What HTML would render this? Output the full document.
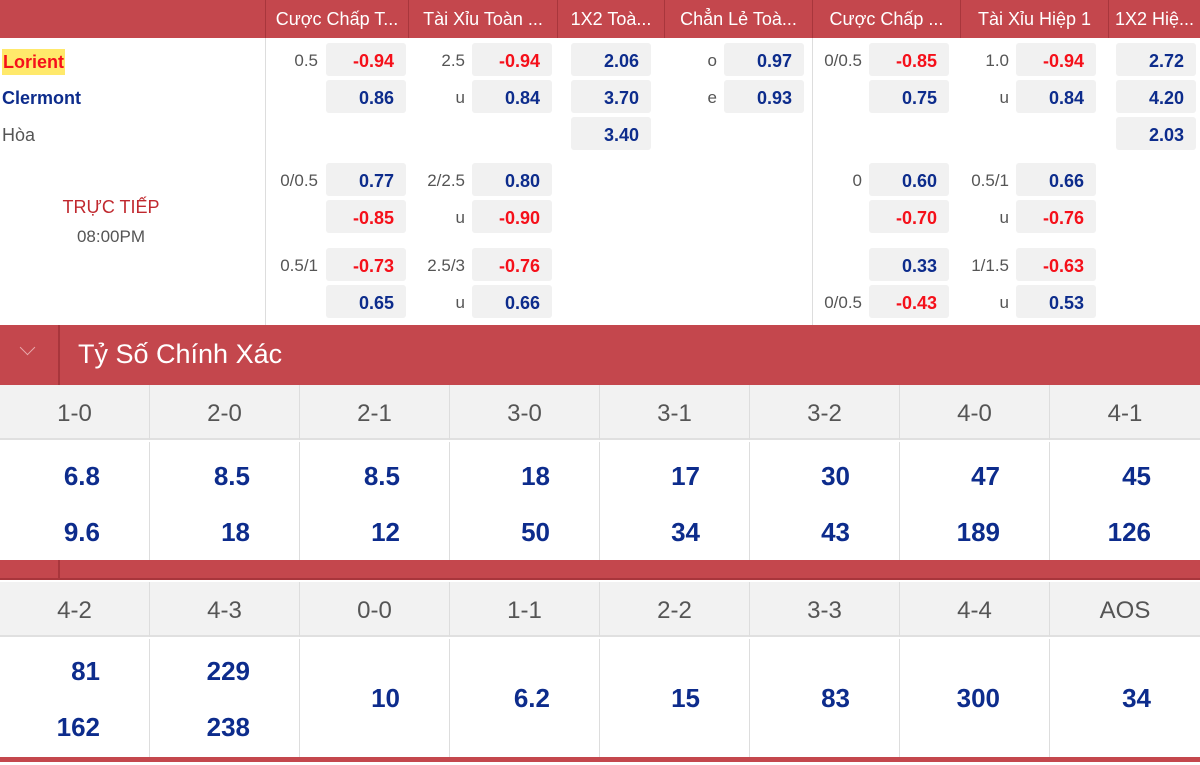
<!DOCTYPE html>
<html><head><meta charset="utf-8"><style>
*{margin:0;padding:0;box-sizing:border-box}
body{width:1200px;height:765px;overflow:hidden;background:#fff;position:relative;font-family:"Liberation Sans","DejaVu Sans",sans-serif}
.a{position:absolute}
.hd{position:absolute;top:0;left:0;width:1200px;height:38px;background:#c4474d}
.hc{position:absolute;top:0;height:38px;line-height:38px;color:#fff;font-size:18px;text-align:center;border-left:1px solid #a8363c;white-space:nowrap}
.b{position:absolute;width:80px;height:33px;background:#f1f1f1;border-radius:3px;text-align:right;padding-right:12px;font-weight:bold;font-size:18px;line-height:36px;color:#0d2c8c}
.r{color:#f5101a}
.l{position:absolute;width:70px;text-align:right;font-size:17px;line-height:36px;color:#555}
.sc{position:absolute;width:150px;text-align:center;font-size:24px;color:#555;border-right:1px solid #ddd}
.v{position:absolute;width:150px;text-align:right;padding-right:49px;font-size:26px;font-weight:bold;color:#0d2c8c;border-right:1px solid #ddd}
.t2{padding-top:6px}
</style></head><body>
<div class="hd"></div>
<div class="hc" style="left:265px;width:143px">Cược Chấp T...</div>
<div class="hc" style="left:408px;width:149px">Tài Xỉu Toàn ...</div>
<div class="hc" style="left:557px;width:107px">1X2 Toà...</div>
<div class="hc" style="left:664px;width:148px">Chẳn Lẻ Toà...</div>
<div class="hc" style="left:812px;width:148px">Cược Chấp ...</div>
<div class="hc" style="left:960px;width:148px">Tài Xỉu Hiệp 1</div>
<div class="hc" style="left:1108px;width:92px">1X2 Hiệ...</div>
<div class="a" style="left:265px;top:38px;width:1px;height:287px;background:#ddd"></div>
<div class="a" style="left:812px;top:38px;width:1px;height:287px;background:#ddd"></div>

<div class="a" style="left:2px;top:49px;background:#ffe96b;color:#f5101a;font-weight:bold;font-size:18px;padding:0 1px;line-height:26px">Lorient</div>
<div class="a" style="left:2px;top:86px;color:#0d2c8c;font-weight:bold;font-size:18px;line-height:24px">Clermont</div>
<div class="a" style="left:2px;top:123px;color:#555;font-size:18px;line-height:24px">Hòa</div>
<div class="a" style="left:0;top:197px;width:222px;text-align:center;color:#c0282e;font-size:18px">TRỰC TIẾP</div>
<div class="a" style="left:0;top:227px;width:222px;text-align:center;color:#555;font-size:17px">08:00PM</div>

<div class="l" style="left:248px;top:43px">0.5</div><div class="b r" style="left:326px;top:43px">-0.94</div>
<div class="b" style="left:326px;top:80px">0.86</div>
<div class="l" style="left:248px;top:163px">0/0.5</div><div class="b" style="left:326px;top:163px">0.77</div>
<div class="b r" style="left:326px;top:200px">-0.85</div>
<div class="l" style="left:248px;top:248px">0.5/1</div><div class="b r" style="left:326px;top:248px">-0.73</div>
<div class="b" style="left:326px;top:285px">0.65</div>
<div class="l" style="left:395px;top:43px">2.5</div><div class="b r" style="left:472px;top:43px">-0.94</div>
<div class="l" style="left:395px;top:80px">u</div><div class="b" style="left:472px;top:80px">0.84</div>
<div class="l" style="left:395px;top:163px">2/2.5</div><div class="b" style="left:472px;top:163px">0.80</div>
<div class="l" style="left:395px;top:200px">u</div><div class="b r" style="left:472px;top:200px">-0.90</div>
<div class="l" style="left:395px;top:248px">2.5/3</div><div class="b r" style="left:472px;top:248px">-0.76</div>
<div class="l" style="left:395px;top:285px">u</div><div class="b" style="left:472px;top:285px">0.66</div>
<div class="b" style="left:571px;top:43px">2.06</div>
<div class="b" style="left:571px;top:80px">3.70</div>
<div class="b" style="left:571px;top:117px">3.40</div>
<div class="l" style="left:647px;top:43px">o</div><div class="b" style="left:724px;top:43px">0.97</div>
<div class="l" style="left:647px;top:80px">e</div><div class="b" style="left:724px;top:80px">0.93</div>
<div class="l" style="left:792px;top:43px">0/0.5</div><div class="b r" style="left:869px;top:43px">-0.85</div>
<div class="b" style="left:869px;top:80px">0.75</div>
<div class="l" style="left:792px;top:163px">0</div><div class="b" style="left:869px;top:163px">0.60</div>
<div class="b r" style="left:869px;top:200px">-0.70</div>
<div class="b" style="left:869px;top:248px">0.33</div>
<div class="l" style="left:792px;top:285px">0/0.5</div><div class="b r" style="left:869px;top:285px">-0.43</div>
<div class="l" style="left:939px;top:43px">1.0</div><div class="b r" style="left:1016px;top:43px">-0.94</div>
<div class="l" style="left:939px;top:80px">u</div><div class="b" style="left:1016px;top:80px">0.84</div>
<div class="l" style="left:939px;top:163px">0.5/1</div><div class="b" style="left:1016px;top:163px">0.66</div>
<div class="l" style="left:939px;top:200px">u</div><div class="b r" style="left:1016px;top:200px">-0.76</div>
<div class="l" style="left:939px;top:248px">1/1.5</div><div class="b r" style="left:1016px;top:248px">-0.63</div>
<div class="l" style="left:939px;top:285px">u</div><div class="b" style="left:1016px;top:285px">0.53</div>
<div class="b" style="left:1116px;top:43px">2.72</div>
<div class="b" style="left:1116px;top:80px">4.20</div>
<div class="b" style="left:1116px;top:117px">2.03</div>

<div class="a" style="left:0;top:325px;width:1200px;height:60px;background:#c4474d"></div>
<div class="a" style="left:58px;top:325px;width:2px;height:60px;background:#a8363c"></div>
<div class="a" style="left:22px;top:342px;width:11px;height:11px;border-right:1.5px solid #e8a9ac;border-bottom:1.5px solid #e8a9ac;transform:rotate(45deg)"></div>
<div class="a" style="left:78px;top:337px;color:#fff;font-size:27px;line-height:34px">Tỷ Số Chính Xác</div>

<div class="a" style="left:0;top:385px;width:1200px;height:55px;background:#f2f2f2;border-bottom:2px solid #e0e0e0"></div>
<div class="sc" style="left:0;top:385px;height:55px;line-height:58px">1-0</div>
<div class="sc" style="left:150px;top:385px;height:55px;line-height:58px">2-0</div>
<div class="sc" style="left:300px;top:385px;height:55px;line-height:58px">2-1</div>
<div class="sc" style="left:450px;top:385px;height:55px;line-height:58px">3-0</div>
<div class="sc" style="left:600px;top:385px;height:55px;line-height:58px">3-1</div>
<div class="sc" style="left:750px;top:385px;height:55px;line-height:58px">3-2</div>
<div class="sc" style="left:900px;top:385px;height:55px;line-height:58px">4-0</div>
<div class="sc" style="left:1050px;top:385px;height:55px;line-height:58px;border:0">4-1</div>
<div class="v t2" style="left:0;top:442px;height:118px;line-height:56px">6.8<br>9.6</div>
<div class="v t2" style="left:150px;top:442px;height:118px;line-height:56px">8.5<br>18</div>
<div class="v t2" style="left:300px;top:442px;height:118px;line-height:56px">8.5<br>12</div>
<div class="v t2" style="left:450px;top:442px;height:118px;line-height:56px">18<br>50</div>
<div class="v t2" style="left:600px;top:442px;height:118px;line-height:56px">17<br>34</div>
<div class="v t2" style="left:750px;top:442px;height:118px;line-height:56px">30<br>43</div>
<div class="v t2" style="left:900px;top:442px;height:118px;line-height:56px">47<br>189</div>
<div class="v t2" style="left:1050px;top:442px;height:118px;line-height:56px;border:0">45<br>126</div>

<div class="a" style="left:0;top:560px;width:1200px;height:20px;background:#c4474d;border-bottom:2px solid #a8363c"></div>
<div class="a" style="left:58px;top:560px;width:2px;height:20px;background:#a8363c"></div>

<div class="a" style="left:0;top:582px;width:1200px;height:55px;background:#f2f2f2;border-bottom:2px solid #e0e0e0"></div>
<div class="sc" style="left:0;top:582px;height:55px;line-height:58px">4-2</div>
<div class="sc" style="left:150px;top:582px;height:55px;line-height:58px">4-3</div>
<div class="sc" style="left:300px;top:582px;height:55px;line-height:58px">0-0</div>
<div class="sc" style="left:450px;top:582px;height:55px;line-height:58px">1-1</div>
<div class="sc" style="left:600px;top:582px;height:55px;line-height:58px">2-2</div>
<div class="sc" style="left:750px;top:582px;height:55px;line-height:58px">3-3</div>
<div class="sc" style="left:900px;top:582px;height:55px;line-height:58px">4-4</div>
<div class="sc" style="left:1050px;top:582px;height:55px;line-height:58px;border:0">AOS</div>
<div class="v" style="left:0;top:639px;height:118px;line-height:56px;padding-top:4px">81<br>162</div>
<div class="v" style="left:150px;top:639px;height:118px;line-height:56px;padding-top:4px">229<br>238</div>
<div class="v" style="left:300px;top:639px;height:118px;line-height:118px">10</div>
<div class="v" style="left:450px;top:639px;height:118px;line-height:118px">6.2</div>
<div class="v" style="left:600px;top:639px;height:118px;line-height:118px">15</div>
<div class="v" style="left:750px;top:639px;height:118px;line-height:118px">83</div>
<div class="v" style="left:900px;top:639px;height:118px;line-height:118px">300</div>
<div class="v" style="left:1050px;top:639px;height:118px;line-height:118px;border:0">34</div>
<div class="a" style="left:0;top:757px;width:1200px;height:5px;background:#c4474d"></div>
</body></html>
